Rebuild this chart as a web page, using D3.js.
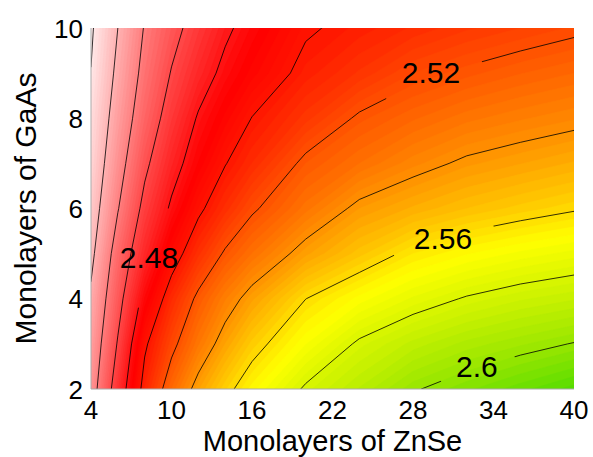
<!DOCTYPE html>
<html>
<head>
<meta charset="utf-8">
<script src="https://cdn.jsdelivr.net/npm/d3@7"></script>
<style>
  body { margin: 0; background: #fff; }
  text { font-family: "Liberation Sans", Arial, Helvetica, sans-serif; fill: #000; }
</style>
</head>
<body>
<script>
(function(d3) {
  "use strict";

  /***** Data *****/
  // Monolayers of ZnSe (columns) and of GaAs (rows)
  var xGrid = [4, 6, 8, 10, 12, 14, 16, 20, 24, 28, 32, 36, 40];
  var yGrid = [2, 3, 4, 5, 6, 7, 8, 9, 10];

  // One row per GaAs value, bottom (2) to top (10)
  var gapRows = [
    [2.4315, 2.4691, 2.5051, 2.5275, 2.5444, 2.5569, 2.5662, 2.5814, 2.5903, 2.5992, 2.6043, 2.6090, 2.6137],
    [2.4270, 2.4613, 2.4979, 2.5166, 2.5319, 2.5450, 2.5560, 2.5698, 2.5815, 2.5885, 2.5935, 2.5970, 2.6004],
    [2.4225, 2.4540, 2.4852, 2.5069, 2.5227, 2.5345, 2.5442, 2.5599, 2.5685, 2.5755, 2.5808, 2.5845, 2.5871],
    [2.4160, 2.4478, 2.4729, 2.4935, 2.5090, 2.5215, 2.5301, 2.5441, 2.5539, 2.5625, 2.5672, 2.5707, 2.5736],
    [2.4110, 2.4392, 2.4645, 2.4822, 2.4975, 2.5084, 2.5183, 2.5313, 2.5425, 2.5480, 2.5525, 2.5560, 2.5591],
    [2.4070, 2.4330, 2.4568, 2.4742, 2.4877, 2.4995, 2.5076, 2.5225, 2.5300, 2.5365, 2.5417, 2.5448, 2.5479],
    [2.4040, 2.4279, 2.4499, 2.4670, 2.4813, 2.4909, 2.5003, 2.5113, 2.5215, 2.5270, 2.5315, 2.5345, 2.5371],
    [2.4003, 2.4237, 2.4448, 2.4608, 2.4732, 2.4835, 2.4912, 2.5035, 2.5105, 2.5175, 2.5215, 2.5248, 2.5275],
    [2.3980, 2.4200, 2.4410, 2.4550, 2.4667, 2.4775, 2.4855, 2.4985, 2.5035, 2.5080, 2.5120, 2.5150, 2.5180]
  ];

  var lineLevels = [2.40, 2.42, 2.44, 2.46, 2.48, 2.50, 2.52, 2.54, 2.56, 2.58, 2.60];

  var labelText = ["2.48", "2.52", "2.56", "2.6"];
  var labelValue = [2.48, 2.52, 2.56, 2.60];
  var labelX = [8.32, 29.34, 30.23, 32.76];
  var labelY = [4.93, 9.02, 5.35, 2.51];

  var xTicks = [4, 10, 16, 22, 28, 34, 40];
  var yTicks = [2, 4, 6, 8, 10];

  // colour map (value -> colour)
  var colorStops = [2.395, 2.488, 2.50, 2.52, 2.54, 2.555, 2.568, 2.585, 2.60, 2.615];
  var colorList = ["#fff6f6", "#ff0000", "#ff1400", "#ff5000", "#ff9000", "#ffc800", "#ffff00", "#ccf200", "#98e600", "#50dc00"];

  /***** Configuration *****/
  var margin = { top: 28, right: 19, bottom: 68, left: 91 };
  var width = 593 - margin.left - margin.right;
  var height = 457 - margin.top - margin.bottom;

  var x = d3.scaleLinear().domain([4, 40]).range([0, width]);
  var y = d3.scaleLinear().domain([2, 10]).range([height, 0]);

  // grid index (sample i sits at i + 0.5 in d3.contours space) -> data value
  var gx = d3.scaleLinear().domain(xGrid.map(function(d, i) { return i + 0.5; })).range(xGrid);
  var gy = d3.scaleLinear().domain(yGrid.map(function(d, i) { return i + 0.5; })).range(yGrid);

  var color = d3.scaleLinear().domain(colorStops).range(colorList).clamp(true);

  var values = [];
  gapRows.forEach(function(r) { values = values.concat(r); });

  var proj = d3.geoTransform({
    point: function(px, py) { this.stream.point(x(gx(px)), y(gy(py))); }
  });
  var path = d3.geoPath(proj);

  var svg = d3.select("body").append("svg")
    .attr("width", 593)
    .attr("height", 457);

  var defs = svg.append("defs");
  defs.append("clipPath").attr("id", "clip")
    .append("rect").attr("width", width).attr("height", height);

  var g = svg.append("g")
    .attr("transform", "translate(" + margin.left + "," + margin.top + ")");

  /***** Filled contours *****/
  var step = 0.0025;
  var fillLevels = d3.range(2.39, 2.625, step);
  var fills = d3.contours()
    .size([xGrid.length, yGrid.length])
    .thresholds(fillLevels)(values);

  var plot = g.append("g").attr("clip-path", "url(#clip)");

  plot.append("g").selectAll("path")
    .data(fills)
    .join("path")
    .attr("d", path)
    .attr("fill", function(d) { return color(d.value + step / 2); })
    .attr("stroke", function(d) { return color(d.value + step / 2); })
    .attr("stroke-width", 0.6);

  /***** Contour lines, broken where labelled *****/
  labelText.forEach(function(t, i) {
    var m = defs.append("mask").attr("id", "gap" + i)
      .attr("maskUnits", "userSpaceOnUse")
      .attr("x", -10).attr("y", -10).attr("width", width + 20).attr("height", height + 20);
    m.append("rect").attr("x", -10).attr("y", -10)
      .attr("width", width + 20).attr("height", height + 20).attr("fill", "#fff");
    m.append("circle")
      .attr("cx", x(labelX[i])).attr("cy", y(labelY[i]))
      .attr("r", t.length > 3 ? 52 : 39)
      .attr("fill", "#000");
  });

  var lines = d3.contours()
    .size([xGrid.length, yGrid.length])
    .thresholds(lineLevels)(values);

  plot.append("g").selectAll("path")
    .data(lines)
    .join("path")
    .attr("d", path)
    .attr("fill", "none")
    .attr("stroke", "#000")
    .attr("stroke-width", 0.8)
    .attr("mask", function(d) {
      var k = labelValue.findIndex(function(v) { return Math.abs(v - d.value) < 1e-6; });
      return k >= 0 ? "url(#gap" + k + ")" : null;
    });

  /***** Axes *****/
  g.append("line")
    .attr("x1", 0).attr("x2", 0).attr("y1", 0).attr("y2", height)
    .attr("stroke", "#aaa").attr("stroke-width", 1);
  g.append("line")
    .attr("x1", 0).attr("x2", width).attr("y1", height).attr("y2", height)
    .attr("stroke", "#aaa").attr("stroke-width", 1);

  g.append("g").selectAll("text")
    .data(xTicks)
    .join("text")
    .attr("x", function(d) { return x(d); })
    .attr("y", height + 30)
    .attr("text-anchor", "middle")
    .attr("font-size", 26)
    .text(function(d) { return d; });

  g.append("g").selectAll("text")
    .data(yTicks)
    .join("text")
    .attr("x", -8)
    .attr("y", function(d) { return y(d) + 9.5; })
    .attr("text-anchor", "end")
    .attr("font-size", 26)
    .text(function(d) { return d; });

  g.append("text")
    .attr("x", width / 2)
    .attr("y", height + 62)
    .attr("text-anchor", "middle")
    .attr("font-size", 29)
    .text("Monolayers of ZnSe");

  g.append("text")
    .attr("transform", "translate(" + (-55) + "," + (height / 2) + ") rotate(-90)")
    .attr("text-anchor", "middle")
    .attr("font-size", 30)
    .text("Monolayers of GaAs");

  /***** Contour labels *****/
  g.append("g").selectAll("text")
    .data(labelText)
    .join("text")
    .attr("x", function(d, i) { return x(labelX[i]); })
    .attr("y", function(d, i) { return y(labelY[i]) + 11; })
    .attr("text-anchor", "middle")
    .attr("font-size", 30)
    .text(function(d) { return d; });
})(d3);
</script>
</body>
</html>
